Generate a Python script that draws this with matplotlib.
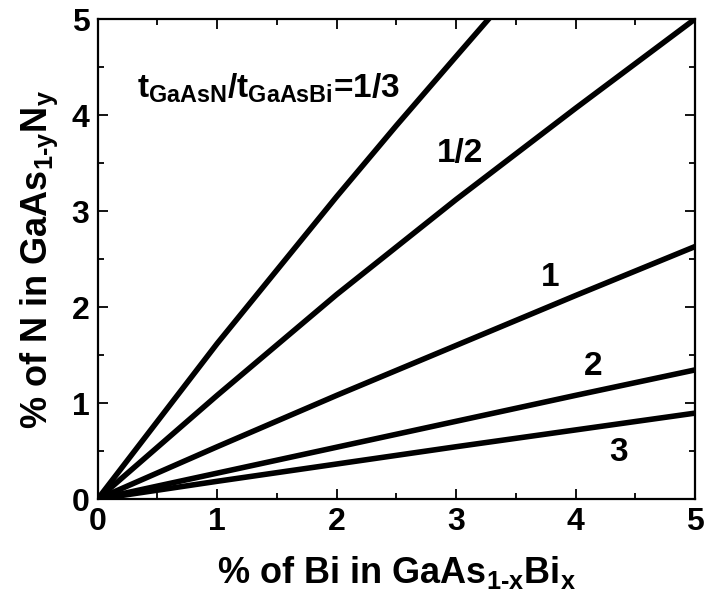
import matplotlib
matplotlib.use("Agg")
import matplotlib.pyplot as plt
from matplotlib.ticker import MultipleLocator

plt.rcParams["font.family"] = ["Liberation Sans", "DejaVu Sans"]
plt.rcParams["font.weight"] = "bold"
plt.rcParams["axes.labelweight"] = "bold"
plt.rcParams["mathtext.fontset"] = "custom"
plt.rcParams["mathtext.rm"] = "Liberation Sans:bold"
plt.rcParams["mathtext.bf"] = "Liberation Sans:bold"
plt.rcParams["mathtext.it"] = "Liberation Sans:bold"
plt.rcParams["mathtext.default"] = "bf"

# N content needed to balance Bi strain, per thickness ratio t_GaAsN/t_GaAsBi
bi_pct = [0, 1, 2, 3, 4, 5]
bi_pct_third = [0, 1, 2, 2.5, 3, 3.3]
n_third = [0, 1.62, 3.15, 3.89, 4.61, 5.04]
n_half = [0, 1.08, 2.13, 3.12, 4.07, 5.00]
n_one = [0, 0.545, 1.08, 1.60, 2.12, 2.63]
n_two = [0, 0.27, 0.54, 0.81, 1.08, 1.345]
n_three = [0, 0.185, 0.365, 0.545, 0.72, 0.895]

fig = plt.figure(figsize=(7.05, 6.02), dpi=100)
ax = fig.add_axes([0.1386, 0.171, 0.9858 - 0.1386, 0.9684 - 0.171])

lw = 4.0
ax.plot(bi_pct_third, n_third, color="black", lw=lw, solid_capstyle="butt")
for ys in (n_half, n_one, n_two, n_three):
    ax.plot(bi_pct, ys, color="black", lw=lw, solid_capstyle="butt")

ax.set_xlim(0, 5)
ax.set_ylim(0, 5)
ax.xaxis.set_major_locator(MultipleLocator(1))
ax.yaxis.set_major_locator(MultipleLocator(1))
ax.xaxis.set_minor_locator(MultipleLocator(0.5))
ax.yaxis.set_minor_locator(MultipleLocator(0.5))
ax.tick_params(which="both", direction="in", top=True, right=True, width=1.3)
ax.tick_params(which="major", length=7.5, labelsize=23, pad=6)
ax.tick_params(which="minor", length=4)
for sp in ax.spines.values():
    sp.set_linewidth(1.6)

ax.set_xlabel(r"% of Bi in GaAs$_{1\text{-}x}$Bi$_x$", fontsize=26, labelpad=12)
ax.set_ylabel(r"% of N in GaAs$_{1\text{-}y}$N$_y$", fontsize=26, labelpad=8)

ax.text(0.33, 4.18, r"t$_{GaAsN}$/t$_{GaAsBi}$=1/3", fontsize=24, ha="left", va="baseline")
ax.text(3.03, 3.6, "1/2", fontsize=24, ha="center", va="center")
ax.text(3.79, 2.31, "1", fontsize=24, ha="center", va="center")
ax.text(4.15, 1.38, "2", fontsize=24, ha="center", va="center")
ax.text(4.36, 0.49, "3", fontsize=24, ha="center", va="center")

fig.savefig("out.png", dpi=100)
